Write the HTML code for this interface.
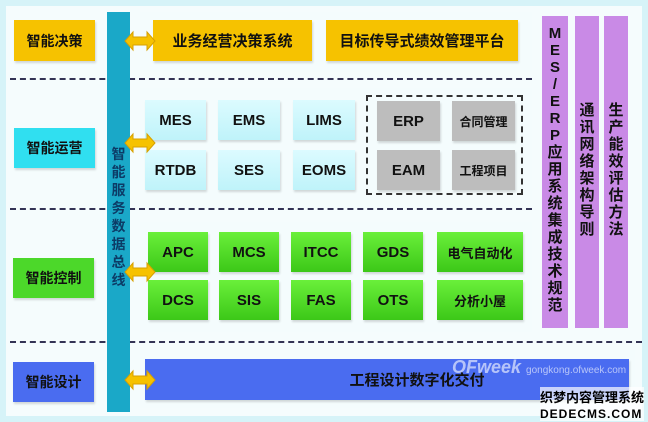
<!DOCTYPE html>
<html><head><meta charset="utf-8"><style>
body{margin:0;width:648px;height:422px;background:#d6f3f8;position:relative;overflow:hidden;font-family:"Liberation Sans","Noto Sans CJK SC",sans-serif;font-weight:bold}
div{position:absolute;box-sizing:border-box}
.p{background:#f4fcfd}
.b{display:flex;align-items:center;justify-content:center;color:#111;font-size:14px;box-shadow:1px 2px 2px rgba(0,0,0,.15)}
.o{background:#f6c200}
.c{background:linear-gradient(#dcfbff,#bff3fa);font-size:15px}
.g{background:linear-gradient(#6af03a,#3cc818);font-size:15px}
.gr{background:#bdbdbd;font-size:15px}
.pu{background:#c98ae6;color:#111;font-size:15px;text-align:center;line-height:17px;padding-top:9px}
.d{border-top:2px dashed #335;height:0}
.v{color:#0c3b66;font-size:14px;text-align:center;line-height:18px;width:23px}
</style></head><body>
<div style="left:6px;top:6px;width:636px;height:410px;background:#fff;opacity:.75"></div>
<div class="p" style="left:140px;top:12px;width:392px;height:60px"></div>
<div class="p" style="left:140px;top:88px;width:392px;height:112px"></div>
<div class="p" style="left:140px;top:222px;width:392px;height:110px"></div>
<div class="p" style="left:140px;top:350px;width:495px;height:58px"></div>
<div class="d" style="left:10px;top:78px;width:522px"></div>
<div class="d" style="left:10px;top:208px;width:522px"></div>
<div class="d" style="left:10px;top:341px;width:632px"></div>
<div class="b o" style="left:14px;top:20px;width:81px;height:41px">智能决策</div>
<div class="b" style="left:14px;top:128px;width:81px;height:40px;background:#30dff0">智能运营</div>
<div class="b" style="left:13px;top:258px;width:81px;height:40px;background:#4cd82a">智能控制</div>
<div class="b" style="left:13px;top:362px;width:81px;height:40px;background:#4a6cf0">智能设计</div>
<div style="left:107px;top:12px;width:23px;height:400px;background:#1aa8c8"></div>
<div class="v" style="left:107px;top:145px">智<br>能<br>服<br>务<br>数<br>据<br>总<br>线</div>
<div class="b o" style="left:153px;top:20px;width:159px;height:41px;font-size:15px">业务经营决策系统</div>
<div class="b o" style="left:326px;top:20px;width:192px;height:41px;font-size:15px">目标传导式绩效管理平台</div>
<div class="b c" style="left:145px;top:100px;width:61px;height:40px">MES</div>
<div class="b c" style="left:218px;top:100px;width:62px;height:40px">EMS</div>
<div class="b c" style="left:293px;top:100px;width:62px;height:40px">LIMS</div>
<div class="b c" style="left:145px;top:150px;width:61px;height:40px">RTDB</div>
<div class="b c" style="left:218px;top:150px;width:62px;height:40px">SES</div>
<div class="b c" style="left:293px;top:150px;width:62px;height:40px">EOMS</div>
<div style="left:366px;top:95px;width:157px;height:100px;border:2px dashed #333"></div>
<div class="b gr" style="left:377px;top:101px;width:63px;height:40px">ERP</div>
<div class="b gr" style="left:452px;top:101px;width:63px;height:40px;font-size:12px">合同管理</div>
<div class="b gr" style="left:377px;top:150px;width:63px;height:40px">EAM</div>
<div class="b gr" style="left:452px;top:150px;width:63px;height:40px;font-size:12px">工程项目</div>
<div class="b g" style="left:148px;top:232px;width:60px;height:40px">APC</div>
<div class="b g" style="left:219px;top:232px;width:60px;height:40px">MCS</div>
<div class="b g" style="left:291px;top:232px;width:60px;height:40px">ITCC</div>
<div class="b g" style="left:363px;top:232px;width:60px;height:40px">GDS</div>
<div class="b g" style="left:437px;top:232px;width:86px;height:40px;font-size:13px">电气自动化</div>
<div class="b g" style="left:148px;top:280px;width:60px;height:40px">DCS</div>
<div class="b g" style="left:219px;top:280px;width:60px;height:40px">SIS</div>
<div class="b g" style="left:291px;top:280px;width:60px;height:40px">FAS</div>
<div class="b g" style="left:363px;top:280px;width:60px;height:40px">OTS</div>
<div class="b g" style="left:437px;top:280px;width:86px;height:40px;font-size:13px">分析小屋</div>
<div class="pu" style="left:542px;top:16px;width:26px;height:312px">M<br>E<br>S<br>/<br>E<br>R<br>P<br>应<br>用<br>系<br>统<br>集<br>成<br>技<br>术<br>规<br>范</div>
<div class="pu" style="left:575px;top:16px;width:24px;height:312px;padding-top:86px">通<br>讯<br>网<br>络<br>架<br>构<br>导<br>则</div>
<div class="pu" style="left:604px;top:16px;width:24px;height:312px;padding-top:86px">生<br>产<br>能<br>效<br>评<br>估<br>方<br>法</div>
<div class="b" style="left:145px;top:359px;width:484px;height:41px;background:#4a6cf0;font-size:15px;padding-left:60px">工程设计数字化交付</div>
<div style="left:452px;top:357px;color:#fff;opacity:.6;font-style:italic;font-size:18px">OFweek <span style="font-size:10px;font-style:normal;font-weight:normal">gongkong.ofweek.com</span></div>
<div style="left:540px;top:387px;font-size:13px;color:#000;background:rgba(255,255,255,.7)">织梦内容管理系统<br><span style="font-size:12px;letter-spacing:1px">DEDECMS.COM</span></div>
<svg style="position:absolute;left:0;top:0" width="648" height="422">
<defs><polygon id="a" points="0,0 8,-9 8,-4 22,-4 22,-9 30,0 22,9 22,4 8,4 8,9" fill="#f6c200" stroke="#d8a000" stroke-width="1"/></defs>
<use href="#a" x="125" y="41"/><use href="#a" x="125" y="143"/><use href="#a" x="125" y="272"/><use href="#a" x="125" y="380"/>
</svg>
</body></html>
